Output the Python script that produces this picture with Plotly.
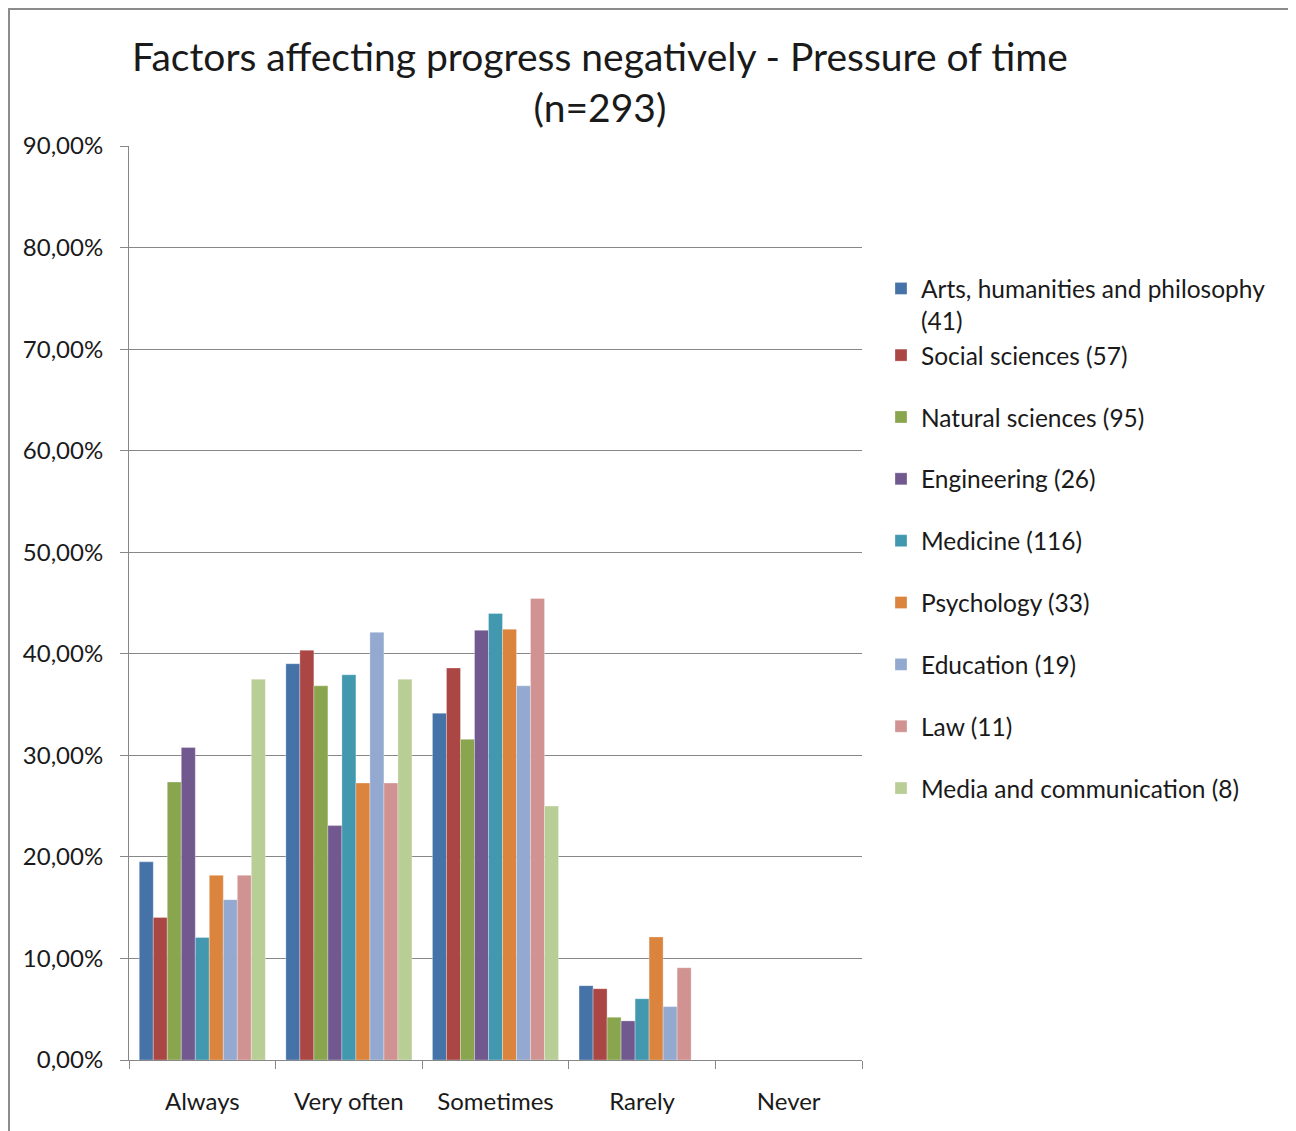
import plotly.graph_objects as go

categories = ["Always", "Very often", "Sometimes", "Rarely", "Never"]

series_names = [
    "Arts, humanities and philosophy<br>(41)",
    "Social sciences (57)",
    "Natural sciences (95)",
    "Engineering (26)",
    "Medicine (116)",
    "Psychology (33)",
    "Education (19)",
    "Law (11)",
    "Media and communication (8)",
]

arts = [19.51, 39.02, 34.15, 7.32, 0.0]
social = [14.04, 40.35, 38.60, 7.02, 0.0]
natural = [27.37, 36.84, 31.58, 4.21, 0.0]
engineering = [30.77, 23.08, 42.31, 3.85, 0.0]
medicine = [12.07, 37.93, 43.97, 6.03, 0.0]
psychology = [18.18, 27.27, 42.42, 12.12, 0.0]
education = [15.79, 42.11, 36.84, 5.26, 0.0]
law = [18.18, 27.27, 45.45, 9.09, 0.0]
media = [37.50, 37.50, 25.00, 0.0, 0.0]

series_values = [arts, social, natural, engineering, medicine,
                 psychology, education, law, media]

colors = ["#4572A7", "#AA4643", "#89A54E", "#71588F", "#4198AF",
          "#DB843D", "#93A9CF", "#D19392", "#B9CD96"]

tick_vals = [0, 10, 20, 30, 40, 50, 60, 70, 80, 90]
tick_text = ["0,00%", "10,00%", "20,00%", "30,00%", "40,00%",
             "50,00%", "60,00%", "70,00%", "80,00%", "90,00%"]

FONT = "Lato"
TEXT = "#1a1a1a"
GRID = "#878787"

fig = go.Figure()
groups = ["g0", "g0", "g2", "g3", "g4", "g5", "g6", "g7", "g8"]
for name, vals, col, grp in zip(series_names, series_values, colors, groups):
    fig.add_trace(go.Bar(
        x=categories, y=vals, name=name,
        marker=dict(color=col, line=dict(color="rgba(255,255,255,0.5)", width=0.6)),
        legendgroup=grp,
    ))

# page body has an 8px margin; figure coordinates = screen - 8
W, H = 1288, 1123
L, R, T, B = 121, 854, 138, 1052

fig.update_layout(
    width=W, height=H,
    margin=dict(l=L, r=W - R, t=T, b=H - B, pad=0),
    paper_bgcolor="white", plot_bgcolor="white",
    barmode="group", bargap=0.14, bargroupgap=0,
    font=dict(family=FONT, color=TEXT),
    title=dict(
        text="Factors affecting progress negatively - Pressure of time<br>(n=293)",
        x=(592 - L) / (R - L), xref="paper", xanchor="center",
        y=1 - 63 / H, yref="container", yanchor="middle",
        font=dict(family=FONT, size=39, color=TEXT),
    ),
    legend=dict(
        x=(873 - L) / (R - L), xanchor="left",
        y=(B - 258) / (B - T), yanchor="top",
        font=dict(family=FONT, size=24.5, color=TEXT),
        tracegroupgap=27,
        itemwidth=30,
        valign="top",
        bgcolor="rgba(0,0,0,0)",
    ),
    xaxis=dict(
        showline=True, linecolor=GRID, linewidth=1,
        ticks="outside", ticklen=8, tickcolor=GRID,
        tickson="boundaries",
        tickfont=dict(family=FONT, size=24, color=TEXT),
        ticklabelstandoff=20,
        showgrid=False,
    ),
    yaxis=dict(
        range=[0, 90],
        tickvals=tick_vals, ticktext=tick_text,
        showline=True, linecolor=GRID, linewidth=1,
        ticks="outside", ticklen=8, tickcolor=GRID,
        tickfont=dict(family=FONT, size=24, color=TEXT),
        ticklabelstandoff=12,
        showgrid=True, gridcolor=GRID, gridwidth=1,
        zeroline=False,
    ),
    shapes=[dict(
        type="rect", xref="paper", yref="paper",
        x0=(1 - L) / (R - L), x1=(1286 - L) / (R - L),
        y0=(B - 1140) / (B - T), y1=(B - 1) / (B - T),
        line=dict(color="#8c8c8c", width=2), fillcolor="rgba(0,0,0,0)",
        layer="below",
    )],
)

fig.write_html("out.html")
